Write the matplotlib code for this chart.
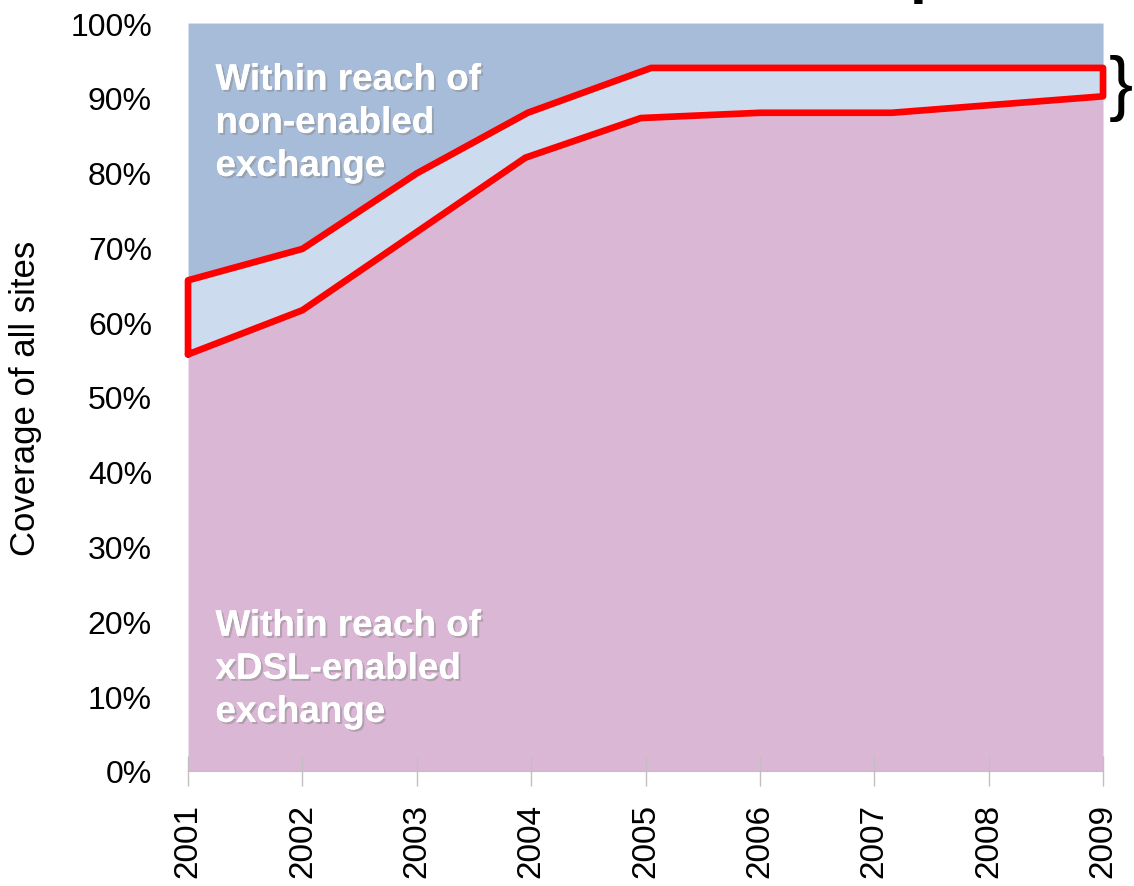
import numpy as np
import matplotlib.pyplot as plt
import matplotlib.patheffects as pe

plt.rcParams['font.family'] = ['Liberation Sans', 'DejaVu Sans']

# data (share of all sites, %)
years = [2001, 2002, 2003, 2004, 2005, 2006, 2007, 2008, 2009]
enabled = [55.7, 61.6, 72.0, 82.0, 87.3, 88.1, 88.1, 89.0, 90.1]
upgrade = [65.4, 69.7, 79.8, 88.2, 93.9, 93.9, 93.9, 93.9, 93.9]
total = [100, 100, 100, 100, 100, 100, 100, 100, 100]

# red outline drawn over the band (hand-placed in the original)
out_x = [2001, 2002, 2003.95, 2004.96, 2006, 2007.15, 2009,
         2009, 2005.05, 2003.97, 2003, 2002, 2001, 2001]
out_y = [55.7, 61.6, 82.0, 87.3, 88.0, 88.0, 90.2,
         94.0, 94.0, 88.0, 79.9, 69.8, 65.6, 55.7]

yticks = np.arange(0, 101, 10)
ytick_labels = ['%d%%' % v for v in yticks]

c_top = '#a7bcd8'
c_band = '#ccdbed'
c_pink = '#dbb7d6'

fig = plt.figure(figsize=(11.34, 8.87), dpi=100)
ax = fig.add_axes([0.1658, 0.1297, 0.8069, 0.8432])

ax.fill_between(years, upgrade, total, color=c_top, lw=0)
ax.fill_between(years, enabled, upgrade, color=c_band, lw=0)
ax.fill_between(years, 0, enabled, color=c_pink, lw=0)
ax.plot(years, upgrade, color='#b0b0b0', lw=1.2)
ax.plot(years, enabled, color='#b0b0b0', lw=1.2)

ax.plot(out_x, out_y, color='#ff0000', lw=4.8, solid_joinstyle='round',
        solid_capstyle='round', clip_on=False, zorder=5)

ax.set_xlim(2001, 2009)
ax.set_ylim(0, 100)
ax.set_yticks(yticks)
ax.set_yticklabels(ytick_labels, fontsize=23)
ax.set_xticks(years)
ax.set_xticklabels([str(y) for y in years], rotation=90, fontsize=24)
ax.tick_params(axis='y', length=0, pad=26)
ax.tick_params(axis='x', direction='inout', length=22, color='#c0c0c0',
               width=1, pad=12)
for s in ['top', 'right', 'left']:
    ax.spines[s].set_visible(False)
ax.spines['bottom'].set_color('#c0c0c0')
ax.set_ylabel('Coverage of all sites', fontsize=25)
ax.yaxis.set_label_coords(-0.16, 0.5)

shadow = [pe.withSimplePatchShadow(offset=(1.5, -1.5), shadow_rgbFace='#888888', alpha=0.5),
          pe.Normal()]
ax.text(0.03, 0.947, 'Within reach of\nnon-enabled\nexchange', transform=ax.transAxes,
        color='white', fontsize=26.5, fontweight='bold', va='top', ha='left',
        linespacing=1.3, path_effects=shadow)
ax.text(0.03, 0.217, 'Within reach of\nxDSL-enabled\nexchange', transform=ax.transAxes,
        color='white', fontsize=26.5, fontweight='bold', va='top', ha='left',
        linespacing=1.3, path_effects=shadow)

fig.text(0.999, 0.90, '}', fontsize=52, ha='right', va='center')
# descender of a title letter cut off by the top edge
fig.text(0.8025, 0.996, 'p', fontsize=44, fontweight='bold', ha='left', va='bottom')

fig.savefig('out.png', dpi=100)
